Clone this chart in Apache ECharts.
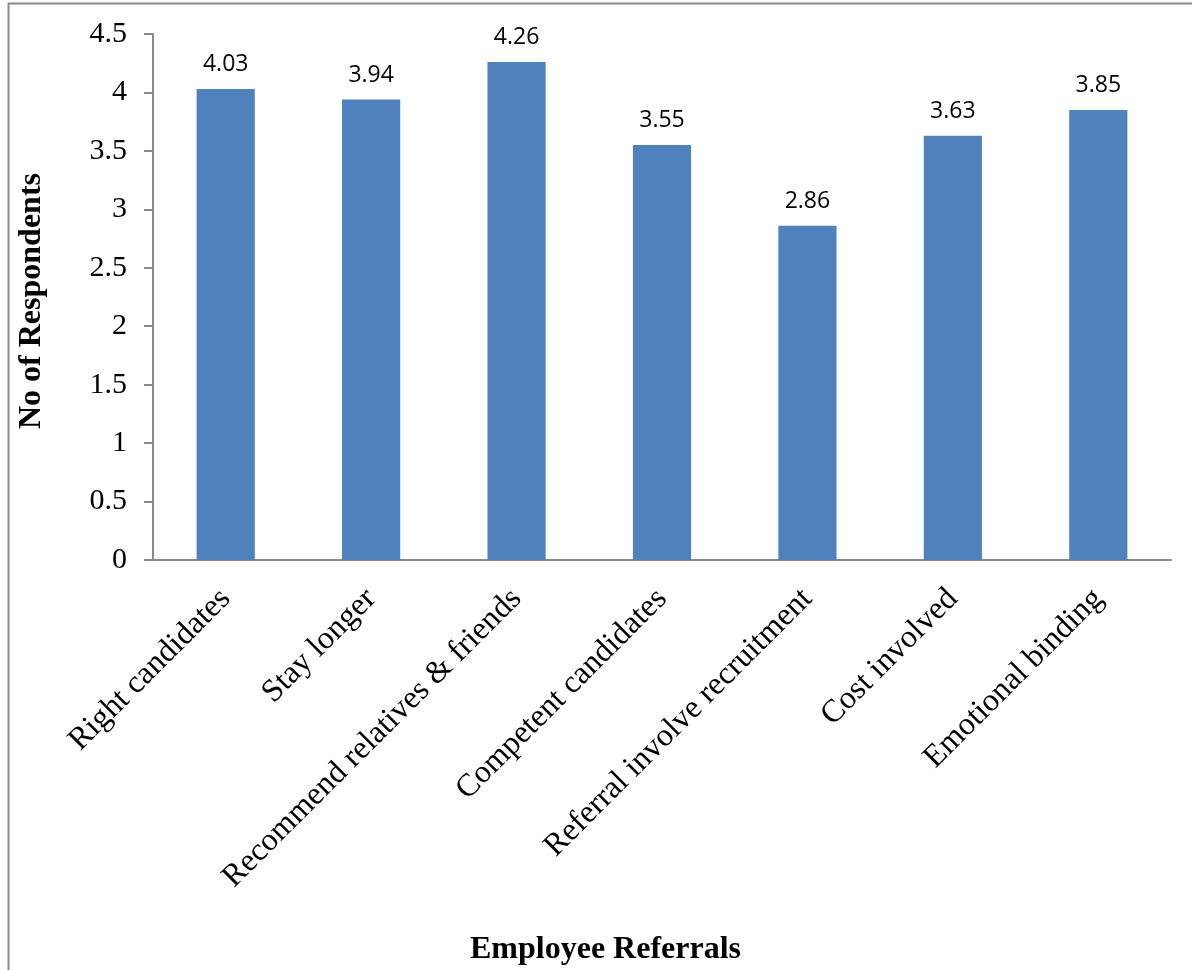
<!DOCTYPE html>
<html>
<head>
<meta charset="utf-8">
<title>Employee Referrals</title>
<script src="https://cdn.jsdelivr.net/npm/echarts@6/dist/echarts.min.js"></script>
<style>
  html, body { margin: 0; padding: 0; background: #ffffff; }
  #chart { width: 1192px; height: 970px; }
</style>
</head>
<body>
<div id="chart"></div>
<script>
// Mean scores per employee-referral statement
const categories = [
  'Right candidates',
  'Stay longer',
  'Recommend relatives & friends',
  'Competent candidates',
  'Referral involve recruitment',
  'Cost involved',
  'Emotional binding'
];
const scores = [4.03, 3.94, 4.26, 3.55, 2.86, 3.63, 3.85];
const yTicks = { min: 0, max: 4.5, interval: 0.5 };

const serif = '"Liberation Serif", "Times New Roman", serif';
const sans = '"Open Sans", "Liberation Sans", sans-serif';
const axisGrey = '#8a8a8a';

const chart = echarts.init(document.getElementById('chart'), null, { renderer: 'canvas' });

chart.setOption({
  backgroundColor: '#ffffff',
  animation: false,
  grid: { left: 153, right: 21, top: 34, bottom: 410, containLabel: false },
  title: {
    text: 'Employee Referrals',
    left: 470,
    top: 934,
    padding: 0,
    textStyle: { fontFamily: serif, fontSize: 32, fontWeight: 'bold', color: '#000' }
  },
  graphic: [
    // frame edges around the chart area
    { type: 'line', shape: { x1: 8.5, y1: 3, x2: 8.5, y2: 970 }, style: { stroke: axisGrey, lineWidth: 2 } },
    { type: 'line', shape: { x1: 8, y1: 3.5, x2: 1192, y2: 3.5 }, style: { stroke: axisGrey, lineWidth: 2 } }
  ],
  xAxis: {
    type: 'category',
    data: categories,
    axisLine: { lineStyle: { color: axisGrey, width: 2 } },
    axisTick: { show: false },
    axisLabel: {
      interval: 0,
      rotate: 45,
      margin: 34,
      fontFamily: serif,
      fontSize: 32,
      color: '#000'
    },
    splitLine: { show: false }
  },
  yAxis: {
    type: 'value',
    min: yTicks.min,
    max: yTicks.max,
    interval: yTicks.interval,
    name: 'No of Respondents',
    nameLocation: 'middle',
    nameGap: 105,
    nameRotate: 90,
    nameTextStyle: { fontFamily: serif, fontSize: 32, fontWeight: 'bold', color: '#000', padding: [0, 8, 0, 0] },
    axisLine: { show: true, lineStyle: { color: axisGrey, width: 2 } },
    axisTick: { show: true, inside: false, length: 9, lineStyle: { color: axisGrey, width: 2 } },
    axisLabel: { margin: 26, fontFamily: serif, fontSize: 30, color: '#000' },
    splitLine: { show: false }
  },
  series: [{
    type: 'bar',
    data: scores,
    barWidth: '40%',
    itemStyle: { color: '#4f81bd' },
    label: {
      show: true,
      position: 'top',
      distance: 13,
      fontFamily: sans,
      fontSize: 23,
      color: '#000',
      formatter: p => p.value.toFixed(2)
    }
  }]
});
</script>
</body>
</html>
